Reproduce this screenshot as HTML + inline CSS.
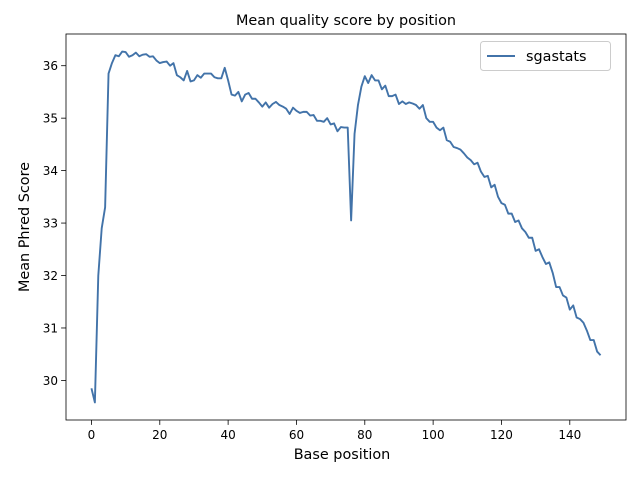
<!DOCTYPE html>
<html><head><meta charset="utf-8"><style>
body{margin:0;background:#fff}
svg text{font-family:"DejaVu Sans","Liberation Sans",sans-serif;fill:#000}
</style></head><body>
<svg width="640" height="480" viewBox="0 0 640 480">
<rect width="640" height="480" fill="#fff"/>
<text x="346" y="25" font-size="14.4" text-anchor="middle">Mean quality score by position</text>
<g id="plot"></g>
<text x="342" y="459" font-size="14.4" text-anchor="middle">Base position</text>
<text transform="translate(29,227) rotate(-90)" font-size="14.4" text-anchor="middle">Mean Phred Score</text>
</svg>
<script>
const xTicks=[0,20,40,60,80,100,120,140];
const yTicks=[30,31,32,33,34,35,36];
const scores=[29.85,29.58,32.0,32.9,33.3,35.85,36.05,36.2,36.18,36.27,36.26,36.17,36.2,36.25,36.18,36.21,36.22,36.17,36.18,36.1,
36.05,36.07,36.08,36.0,36.05,35.82,35.78,35.72,35.9,35.7,35.72,35.82,35.77,35.85,35.85,35.85,35.78,35.76,35.76,35.96,
35.72,35.45,35.43,35.5,35.32,35.45,35.48,35.37,35.37,35.3,35.22,35.3,35.2,35.27,35.31,35.25,35.22,35.18,35.08,35.2,
35.14,35.1,35.12,35.12,35.05,35.06,34.95,34.95,34.93,35.0,34.88,34.9,34.75,34.83,34.82,34.82,33.05,34.7,35.25,35.6,
35.8,35.67,35.82,35.72,35.72,35.55,35.62,35.42,35.42,35.45,35.27,35.32,35.27,35.3,35.28,35.25,35.18,35.25,35.0,34.93,
34.93,34.82,34.77,34.82,34.58,34.55,34.45,34.43,34.4,34.33,34.25,34.2,34.12,34.15,33.98,33.88,33.9,33.68,33.73,33.5,
33.38,33.35,33.18,33.18,33.02,33.05,32.9,32.83,32.72,32.72,32.47,32.5,32.35,32.22,32.25,32.05,31.78,31.78,31.62,31.58,
31.35,31.43,31.2,31.17,31.1,30.95,30.77,30.77,30.55,30.48];
const L=66,R=626,T=34,B=420;
const n=scores.length;
const xmin=-(n-1)*0.05,xmax=(n-1)*1.05;
const ymn=Math.min(...scores),ymx=Math.max(...scores),pad=(ymx-ymn)*0.05;
const ymin=ymn-pad,ymax=ymx+pad;
const sx=v=>L+(v-xmin)/(xmax-xmin)*(R-L);
const sy=v=>B-(v-ymin)/(ymax-ymin)*(B-T);
const NS="http://www.w3.org/2000/svg";
const g=document.getElementById('plot');
function mk(tag,attrs){const e=document.createElementNS(NS,tag);for(const k in attrs)e.setAttribute(k,attrs[k]);g.appendChild(e);return e;}
xTicks.forEach(t=>{
 const ln=mk('line',{x1:sx(t),x2:sx(t),y1:B,y2:B+4.9,stroke:'#000','stroke-width':0.8});
 
 
 const tx=mk('text',{x:sx(t),y:B+19,'font-size':12,'text-anchor':'middle'});
 tx.textContent=t;
 
 
});
yTicks.forEach(t=>{
 const ln=mk('line',{x1:L-4.9,x2:L,y1:sy(t),y2:sy(t),stroke:'#000','stroke-width':0.8});
 
 
 const tx=mk('text',{x:L-8,y:sy(t)+4.4,'font-size':12,'text-anchor':'end'});
 tx.textContent=t;
 
 
});
const line=mk('polyline',{points:scores.map((v,i)=>sx(i)+','+sy(v)).join(' '),fill:'none',stroke:'#4273a9','stroke-width':1.9,'stroke-linejoin':'round'});


const fr=mk('rect',{x:L,y:T,width:R-L,height:B-T,fill:'none',stroke:'#000','stroke-width':0.8});


const lg=mk('rect',{x:480.5,y:41.5,width:130,height:29,rx:3,fill:'#fff','fill-opacity':0.8,stroke:'#ccc','stroke-width':1});


const ll=mk('line',{x1:487,x2:515,y1:56,y2:56,stroke:'#4273a9','stroke-width':1.9});


const lt=mk('text',{x:526,y:61,'font-size':14.4});
lt.textContent='sgastats';


</script>
</body></html>
